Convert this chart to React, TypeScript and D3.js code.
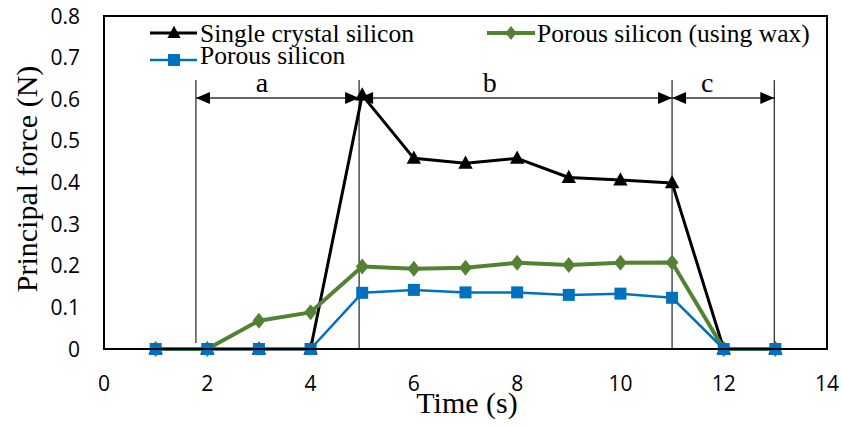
import React from "react";
import * as d3 from "d3";

const times = [1, 2, 3, 4, 5, 6, 7, 8, 9, 10, 11, 12, 13];
const singleCrystal = [0, 0, 0, 0, 0.61, 0.458, 0.446, 0.458, 0.412, 0.406, 0.399, 0, 0];
const porousWax = [0, 0, 0.068, 0.088, 0.198, 0.193, 0.195, 0.207, 0.202, 0.207, 0.208, 0, 0];
const porous = [0, 0, 0, 0, 0.135, 0.142, 0.136, 0.136, 0.13, 0.133, 0.123, 0, 0];
const xTicks = [0, 2, 4, 6, 8, 10, 12, 14];
const yTicks = [0, 0.1, 0.2, 0.3, 0.4, 0.5, 0.6, 0.7, 0.8];
const phaseBounds = [1.78, 4.94, 11.0, 12.98];
const phaseLabels = ["a", "b", "c"];
const phaseLabelX = [3.06, 7.47, 11.68];

const W = 842, H = 427;
const L = 104, R = 827, T = 16, B = 349;

export default function App() {
  const x = d3.scaleLinear().domain([0, 14]).range([L, R]);
  const y = d3.scaleLinear().domain([0, 0.8]).range([B, T]);
  const line = d3.line<number>().x((_, i) => x(times[i])).y((d) => y(d));

  const serif = "'Liberation Serif', 'Times New Roman', serif";
  const sans = "'Open Sans', sans-serif";

  const tri = (cx: number, cy: number, s: number) =>
    `M${cx},${cy - s * 0.65}L${cx + s * 0.6},${cy + s * 0.45}L${cx - s * 0.6},${cy + s * 0.45}Z`;
  const diamond = (cx: number, cy: number, s: number) =>
    `M${cx},${cy - s}L${cx + s * 0.8},${cy}L${cx},${cy + s}L${cx - s * 0.8},${cy}Z`;

  const arrowY = 98;
  const head = (xt: number, dir: number) =>
    `M${xt},${arrowY}L${xt - dir * 14},${arrowY - 6}L${xt - dir * 14},${arrowY + 6}Z`;

  return (
    <div style={{ position: "absolute", left: 0, top: 0 }}>
      <svg width={W} height={H} style={{ display: "block", background: "#fff" }}>
        <rect x={0} y={0} width={W} height={H} fill="#fff" />
        {/* y tick labels */}
        {yTicks.map((t) => (
          <text key={t} x={80} y={y(t)} dy="0.36em" textAnchor="end" fontFamily={sans} fontSize={21} fill="#000">
            {t === 0 ? "0" : t.toFixed(1)}
          </text>
        ))}
        {xTicks.map((t) => (
          <text key={t} x={x(t)} y={383} dy="0.36em" textAnchor="middle" fontFamily={sans} fontSize={21} fill="#000">
            {t}
          </text>
        ))}
        <text transform={`translate(37,179) rotate(-90)`} textAnchor="middle" fontFamily={serif} fontSize={30} fill="#000">
          Principal force (N)
        </text>
        <text x={467} y={413} textAnchor="middle" fontFamily={serif} fontSize={30} fill="#000">
          Time (s)
        </text>

        {/* phase annotation lines */}
        {phaseBounds.map((b, i) => (
          <line key={b} x1={x(b)} x2={x(b)} y1={80} y2={i === 0 ? 343 : B} stroke="#333" strokeWidth={1.3} />
        ))}
        {phaseLabels.map((lab, i) => {
          const x0 = x(phaseBounds[i]);
          const x1 = x(phaseBounds[i + 1]);
          return (
            <g key={lab}>
              <line x1={x0} x2={x1} y1={arrowY} y2={arrowY} stroke="#333" strokeWidth={1.3} />
              <path d={head(x0, -1)} fill="#000" />
              <path d={head(x1, 1)} fill="#000" />
              <text x={x(phaseLabelX[i])} y={92} textAnchor="middle" fontFamily={serif} fontSize={28} fill="#000">
                {lab}
              </text>
            </g>
          );
        })}

        {/* series */}
        <path d={line(singleCrystal) || ""} fill="none" stroke="#000" strokeWidth={3} strokeLinejoin="round" />
        {singleCrystal.map((v, i) => (
          <path key={"s" + i} d={tri(x(times[i]), y(v), 12)} fill="#000" />
        ))}
        <path d={line(porousWax) || ""} fill="none" stroke="#548235" strokeWidth={4} strokeLinejoin="round" />
        {porousWax.map((v, i) => (
          <path key={"w" + i} d={diamond(x(times[i]), y(v), 8)} fill="#548235" />
        ))}
        <path d={line(porous) || ""} fill="none" stroke="#0070C0" strokeWidth={2.5} strokeLinejoin="round" />
        {porous.map((v, i) => (
          <rect key={"p" + i} x={x(times[i]) - 6} y={y(v) - 6} width={12} height={12} fill="#0070C0" />
        ))}

        {/* plot border */}
        <rect x={L} y={T} width={R - L} height={B - T} fill="none" stroke="#000" strokeWidth={2} />

        {/* legend */}
        <line x1={150} x2={197} y1={33} y2={33} stroke="#000" strokeWidth={3} />
        <path d={tri(174, 33, 11)} fill="#000" />
        <text x={200} y={42} fontFamily={serif} fontSize={25.5} fill="#000">Single crystal silicon</text>
        <line x1={487} x2={535} y1={33} y2={33} stroke="#548235" strokeWidth={4} />
        <path d={diamond(511, 33, 7)} fill="#548235" />
        <text x={537} y={42} fontFamily={serif} fontSize={25.5} fill="#000">Porous silicon (using wax)</text>
        <line x1={150} x2={197} y1={60} y2={60} stroke="#0070C0" strokeWidth={2.5} />
        <rect x={168} y={54} width={12} height={12} fill="#0070C0" />
        <text x={200} y={64} fontFamily={serif} fontSize={25.5} fill="#000">Porous silicon</text>
      </svg>
    </div>
  );
}
